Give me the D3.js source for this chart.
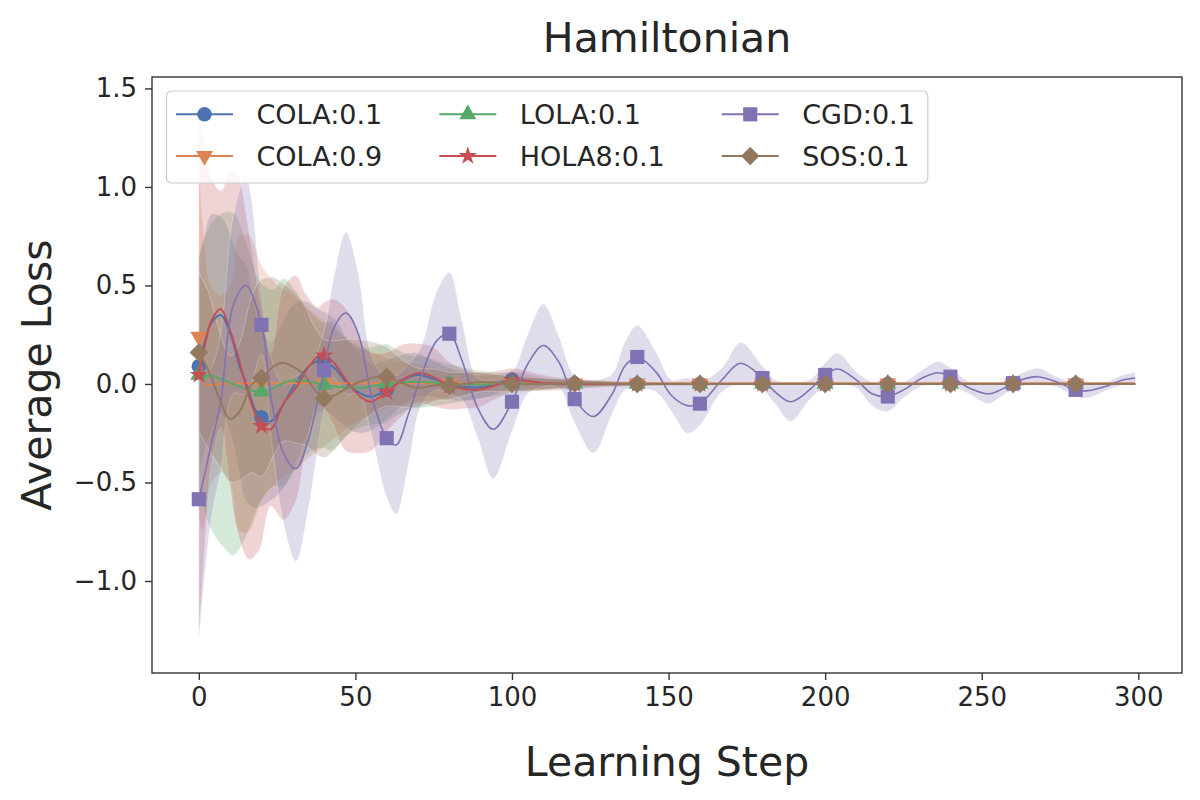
<!DOCTYPE html>
<html lang="en">
<head>
  <meta charset="UTF-8">
  <title>Hamiltonian</title>
  <style>
    body { margin: 0; background: #fff; font-family: "DejaVu Sans", sans-serif; }
  </style>
  <script src="https://cdn.jsdelivr.net/npm/d3@7"></script>
</head>
<body>
<script>
  // values: step, mean and half-width of the shaded band
  var colaSteps = [0,2,4,7,10,13,15,18,20,23,26,30,34,37,40,44,48,52,55,60,65,70,75,80,85,89,95,100,105,110,120,140,160,180,200,220,240,260,280,299];
  var colaMean  = [0.09,0.22,0.31,0.35,0.26,0.09,0.01,-0.13,-0.17,-0.19,-0.13,-0.02,0.07,0.11,0.115,0.07,-0.01,-0.05,-0.065,-0.03,0.02,0.046,0.025,0.0,-0.015,-0.018,0.0,0.022,0.015,0.003,0.002,0,0,0,0,0,0,0,0,0];
  var colaBand  = [0.55,0.55,0.55,0.5,0.5,0.55,0.6,0.5,0.45,0.4,0.42,0.42,0.35,0.28,0.25,0.25,0.22,0.2,0.17,0.15,0.13,0.11,0.09,0.08,0.07,0.06,0.05,0.04,0.035,0.03,0.02,0.01,0.006,0.005,0.005,0.004,0.004,0.004,0.004,0.004];

  var cola9Steps = [0,1,2,4,7,10,13,16,20,25,30,35,40,45,50,60,70,80,90,100,120,140,160,180,200,220,240,260,280,299];
  var cola9Mean  = [0.24,0.06,0.0,-0.005,0.0,0.002,0.003,0.003,0.003,0.003,0.003,0.003,0.003,0.003,0.003,0.003,0.003,0.003,0.003,0.003,0.003,0.003,0.003,0.003,0.003,0.003,0.003,0.003,0.003,0.003];
  var cola9Band  = [0.9,0.8,0.7,0.5,0.45,0.5,0.75,0.75,0.6,0.5,0.45,0.38,0.32,0.26,0.2,0.13,0.1,0.07,0.05,0.04,0.02,0.01,0.006,0.005,0.004,0.004,0.004,0.004,0.004,0.004];

  var lolaSteps = [0,4,8,11,15,20,24,27,31,36,40,42,47,52,57,60,62,67,72,80,88,95,100,110,120,140,160,180,200,220,240,260,280,299];
  var lolaMean  = [0.046,0.04,0.02,0.0,-0.025,-0.039,-0.02,0.005,0.02,0.01,-0.005,-0.01,-0.017,-0.02,-0.005,0.003,0.006,0.01,0.01,0.0,-0.003,0.0,0.002,0.0,0.0,0,0,0,0,0,0,0,0,0];
  var lolaBand  = [0.6,0.78,0.85,0.87,0.75,0.55,0.5,0.53,0.45,0.35,0.32,0.33,0.25,0.2,0.2,0.2,0.18,0.14,0.13,0.1,0.075,0.06,0.05,0.03,0.02,0.01,0.006,0.005,0.004,0.004,0.004,0.004,0.004,0.004];

  var holaSteps = [0,2,4,7,10,12,16,19,20,23,27,31,34,38,40,43,47,52,55,60,65,70,75,80,85,89,95,100,105,110,120,140,160,180,200,220,240,260,280,299];
  var holaMean  = [0.046,0.2,0.32,0.38,0.27,0.17,-0.06,-0.19,-0.213,-0.23,-0.1,-0.02,0.06,0.14,0.145,0.11,0.02,-0.07,-0.09,-0.04,0.02,0.055,0.035,-0.01,-0.025,-0.03,-0.005,0.02,0.015,0.005,0.0,0,0,0,0,0,0,0,0,0];
  var holaBand  = [1.32,1.0,0.73,0.6,0.8,0.9,0.83,0.66,0.6,0.39,0.59,0.57,0.4,0.25,0.27,0.32,0.36,0.28,0.25,0.2,0.18,0.15,0.15,0.12,0.1,0.09,0.07,0.06,0.05,0.04,0.025,0.01,0.006,0.004,0.004,0.004,0.004,0.004,0.004,0.004];

  var cgdSteps = [0,2,4,7,11,15,20,23,27,31,35,40,43,47,51,55,60,63,67,71,76,80,84,89,94,100,105,110,115,120,126,132,136,140,146,151,156,160,167,173,180,184,189,195,200,204,210,215,220,225,231,236,240,246,252,256,260,264,268,274,280,284,290,295,299];
  var cgdMean  = [-0.585,-0.45,-0.30,-0.09,0.40,0.50,0.30,-0.06,-0.35,-0.43,-0.28,0.07,0.28,0.36,0.25,-0.05,-0.275,-0.31,-0.15,0.04,0.22,0.255,0.12,-0.12,-0.23,-0.09,0.10,0.195,0.11,-0.077,-0.165,-0.05,0.09,0.137,0.06,-0.06,-0.11,-0.10,0.02,0.105,0.03,-0.04,-0.09,-0.03,0.046,0.076,0.02,-0.05,-0.064,-0.03,0.03,0.057,0.037,-0.02,-0.05,-0.03,0.004,0.028,0.037,0.01,-0.03,-0.034,-0.01,0.02,0.03];
  var cgdBand  = [0.72,0.5,0.38,0.35,0.45,0.55,0.15,0.2,0.35,0.47,0.35,0.2,0.25,0.41,0.3,0.2,0.3,0.35,0.25,0.15,0.25,0.31,0.2,0.15,0.25,0.15,0.15,0.21,0.13,0.12,0.185,0.1,0.12,0.16,0.1,0.08,0.14,0.11,0.06,0.105,0.06,0.06,0.1,0.05,0.06,0.08,0.04,0.06,0.075,0.04,0.04,0.056,0.045,0.03,0.05,0.035,0.03,0.035,0.043,0.025,0.033,0.036,0.02,0.025,0.03];

  var sosSteps = [0,3,6,10,13,17,20,24,27,31,34,37,40,43,48,53,57,60,65,70,76,80,90,100,110,120,140,160,180,200,220,240,260,280,299];
  var sosMean  = [0.16,0.07,-0.05,-0.178,-0.14,0.0,0.03,0.09,0.108,0.08,0.04,-0.03,-0.073,-0.06,-0.013,0.02,0.037,0.037,0.003,-0.02,-0.005,-0.01,0.01,0.0,0.0,0.003,0,0,0,0,0,0,0,0,0];
  var sosBand  = [0.4,0.4,0.35,0.32,0.35,0.45,0.5,0.45,0.4,0.38,0.35,0.32,0.3,0.28,0.24,0.2,0.17,0.15,0.12,0.1,0.08,0.07,0.05,0.04,0.03,0.02,0.01,0.006,0.005,0.004,0.004,0.004,0.004,0.004,0.004];

  var xTicks = [0, 50, 100, 150, 200, 250, 300];
  var yTicks = [-1.0, -0.5, 0.0, 0.5, 1.0, 1.5];

  var series = [
    {name: "COLA:0.1",  color: "#4c72b0", marker: "circle",   steps: colaSteps,  mean: colaMean,  band: colaBand},
    {name: "COLA:0.9",  color: "#dd8452", marker: "triDown",  steps: cola9Steps, mean: cola9Mean, band: cola9Band},
    {name: "LOLA:0.1",  color: "#55a868", marker: "triUp",    steps: lolaSteps,  mean: lolaMean,  band: lolaBand},
    {name: "HOLA8:0.1", color: "#c44e52", marker: "star",     steps: holaSteps,  mean: holaMean,  band: holaBand},
    {name: "CGD:0.1",   color: "#8172b3", marker: "square",   steps: cgdSteps,   mean: cgdMean,   band: cgdBand},
    {name: "SOS:0.1",   color: "#937860", marker: "diamond",  steps: sosSteps,   mean: sosMean,   band: sosBand}
  ];

  var W = 1200, H = 800;
  var axL = 152, axR = 1182, axT = 77, axB = 673;

  var x = d3.scaleLinear().domain([-14.95, 313.95]).range([axL, axR]);
  var y = d3.scaleLinear().domain([-1.467, 1.558]).range([axB, axT]);

  var svg = d3.select("body").append("svg")
    .attr("width", W).attr("height", H)
    .style("font-family", "'DejaVu Sans', sans-serif");

  svg.append("defs").append("clipPath").attr("id", "plotclip")
    .append("rect").attr("x", axL).attr("y", axT)
    .attr("width", axR - axL).attr("height", axB - axT);

  function rows(s) {
    return s.steps.map(function(st, i) {
      return {step: st, mean: s.mean[i], lo: s.mean[i] - s.band[i], hi: s.mean[i] + s.band[i]};
    });
  }

  var curve = d3.curveCatmullRom.alpha(0.5);

  var area = d3.area()
    .x(function(d) { return x(d.step); })
    .y0(function(d) { return y(d.lo); })
    .y1(function(d) { return y(d.hi); })
    .curve(curve);

  var line = d3.line()
    .x(function(d) { return x(d.step); })
    .y(function(d) { return y(d.mean); })
    .curve(curve);

  function symbolFor(m) {
    if (m === "circle") return {t: d3.symbol(d3.symbolCircle, 165), r: 0};
    if (m === "square") return {t: d3.symbol(d3.symbolSquare, 200), r: 0};
    if (m === "diamond") return {t: d3.symbol(d3.symbolSquare, 170), r: 45};
    if (m === "triUp") return {t: d3.symbol(d3.symbolTriangle, 125), r: 0};
    if (m === "triDown") return {t: d3.symbol(d3.symbolTriangle, 125), r: 180};
    return {t: d3.symbol(d3.symbolStar, 105), r: 0};
  }

  var plot = svg.append("g").attr("clip-path", "url(#plotclip)");

  // shaded bands first
  series.forEach(function(s) {
    plot.append("path")
      .datum(rows(s))
      .attr("d", area)
      .attr("fill", s.color)
      .attr("fill-opacity", 0.25)
      .attr("stroke", "#fff")
      .attr("stroke-opacity", 0.35)
      .attr("stroke-width", 0.8);
  });

  // mean lines and markers every 20 steps
  series.forEach(function(s) {
    var data = rows(s);
    plot.append("path")
      .datum(data)
      .attr("d", line)
      .attr("fill", "none")
      .attr("stroke", s.color)
      .attr("stroke-width", s.marker === "square" ? 1.6 : 2);
    var sym = symbolFor(s.marker);
    plot.selectAll(null)
      .data(data.filter(function(d) { return d.step % 20 === 0; }))
      .enter().append("path")
      .attr("d", sym.t)
      .attr("transform", function(d) {
        return "translate(" + x(d.step) + "," + y(d.mean) + ") rotate(" + sym.r + ")";
      })
      .attr("fill", s.color);
  });

  // axes
  var xAxis = svg.append("g")
    .attr("transform", "translate(0," + axB + ")")
    .call(d3.axisBottom(x).tickValues(xTicks).tickSize(7).tickPadding(8).tickFormat(d3.format("d")));
  var yAxis = svg.append("g")
    .attr("transform", "translate(" + axL + ",0)")
    .call(d3.axisLeft(y).tickValues(yTicks).tickSize(7).tickPadding(8).tickFormat(d3.format(".1f")));

  [xAxis, yAxis].forEach(function(a) {
    a.select(".domain").remove();
    a.selectAll(".tick line").attr("stroke", "#333").attr("stroke-width", 1.4);
    a.selectAll(".tick text")
      .attr("fill", "#262626")
      .style("font-size", "26px")
      .style("font-family", "'DejaVu Sans', sans-serif");
  });

  svg.append("rect")
    .attr("x", axL).attr("y", axT)
    .attr("width", axR - axL).attr("height", axB - axT)
    .attr("fill", "none").attr("stroke", "#333").attr("stroke-width", 1.4);

  // titles
  svg.append("text")
    .attr("x", (axL + axR) / 2).attr("y", 52)
    .attr("text-anchor", "middle")
    .attr("fill", "#262626")
    .style("font-size", "41px")
    .text("Hamiltonian");

  svg.append("text")
    .attr("x", (axL + axR) / 2).attr("y", 776)
    .attr("text-anchor", "middle")
    .attr("fill", "#262626")
    .style("font-size", "41px")
    .text("Learning Step");

  svg.append("text")
    .attr("transform", "translate(51," + (axT + axB) / 2 + ") rotate(-90)")
    .attr("text-anchor", "middle")
    .attr("fill", "#262626")
    .style("font-size", "41px")
    .text("Average Loss");

  // legend, 3 columns x 2 rows
  var legend = svg.append("g");
  var legBox = legend.append("rect")
    .attr("x", 166.5).attr("y", 91)
    .attr("rx", 5).attr("ry", 5)
    .attr("height", 92)
    .attr("fill", "#fff").attr("fill-opacity", 0.8)
    .attr("stroke", "#cccccc").attr("stroke-width", 1.2);

  var rowY = [114.3, 156];
  var colX = 176;
  var colEnd = 0;
  for (var c = 0; c < 3; c++) {
    var widest = 0;
    for (var r = 0; r < 2; r++) {
      var s = series[c * 2 + r];
      var g = legend.append("g").attr("transform", "translate(" + colX + "," + rowY[r] + ")");
      g.append("line").attr("x1", 0).attr("x2", 57).attr("y1", 0).attr("y2", 0)
        .attr("stroke", s.color).attr("stroke-width", 2);
      var sym = symbolFor(s.marker);
      g.append("path").attr("d", sym.t)
        .attr("transform", "translate(28.5,0) rotate(" + sym.r + ")")
        .attr("fill", s.color);
      var t = g.append("text").attr("x", 80.5).attr("y", 0).attr("dy", "0.36em")
        .attr("fill", "#262626")
        .style("font-size", "27px")
        .text(s.name);
      widest = Math.max(widest, t.node().getComputedTextLength());
    }
    colEnd = colX + 80.5 + widest;
    colX = colEnd + 57;
  }
  legBox.attr("width", colEnd + 13 - 166.5);
</script>
</body>
</html>
